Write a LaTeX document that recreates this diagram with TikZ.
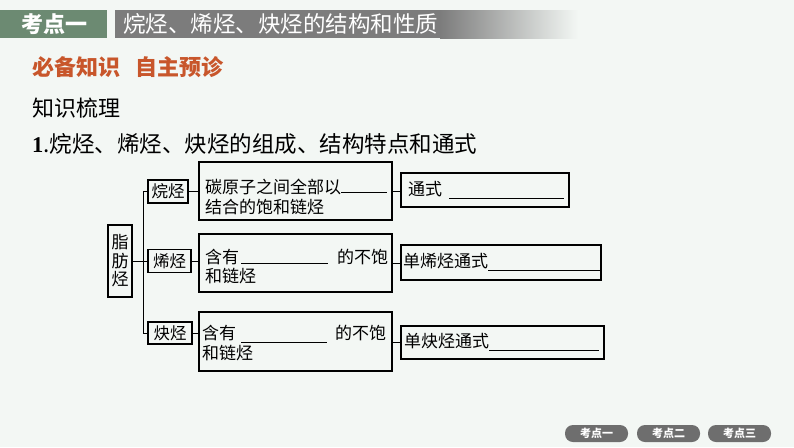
\documentclass[tikz,border=0pt]{standalone}
\usepackage{fontspec}
\setmainfont{Noto Sans CJK SC}
\newfontfamily\numfont{Liberation Serif}
\usepackage{tikz}
\usetikzlibrary{positioning, calc}
\usepackage{xcolor}

\definecolor{pagebg}{HTML}{F3F7F4}
\definecolor{headgreen}{HTML}{6C8A72}
\definecolor{headgray}{HTML}{7C7C7C}
\definecolor{secorange}{HTML}{C8562B}
\definecolor{btngray}{HTML}{6E6E6E}

\begin{document}
\begin{tikzpicture}[
    x=1pt, y=-1pt,
    kindbox/.style={draw, line width=1.6pt, inner sep=0pt, font=\fontsize{16.5}{18}\selectfont},
    descbox/.style={draw, line width=1.6pt, minimum width=193pt, inner sep=0pt},
    formbox/.style={draw, line width=1.6pt, inner sep=0pt},
    desctext/.style={anchor=west, inner sep=0pt, align=left, font=\fontsize{17}{19.5}\selectfont},
    link/.style={line width=1pt},
    button/.style={fill=btngray, rounded corners=8pt, minimum width=63pt, minimum height=17pt,
        inner sep=0pt, text=white, font=\fontsize{11}{11}\selectfont\bfseries}
]
    % Page and heading band
    \fill[pagebg] (0,0) rectangle (794,447);
    \fill[headgreen] (0,10) rectangle (107,38);
    \fill[headgray] (115,10) rectangle (440,38);
    \shade[left color=headgray, right color=pagebg] (440,10) rectangle (578,38);
    \node[text=white, inner sep=0pt, font=\fontsize{22}{22}\selectfont\bfseries] (topic) at (54,24) {考点一};
    \node[text=white, inner sep=0pt, anchor=west, font=\fontsize{22.5}{22.5}\selectfont] (title) at (123,24) {烷烃、烯烃、炔烃的结构和性质};

    % Section headings
    \node[text=secorange, inner sep=0pt, anchor=west, font=\fontsize{22}{22}\selectfont\bfseries] (section) at (32,67) {必备知识\hspace{15pt}自主预诊};
    \node[inner sep=0pt, anchor=west, font=\fontsize{22}{22}\selectfont] (combing) at (32,108) {知识梳理};
    \node[inner sep=0pt, anchor=west, font=\fontsize{22.5}{22.5}\selectfont] (point) at (32,144) {{\numfont\bfseries 1}.烷烃、烯烃、炔烃的组成、结构特点和通式};

    % Aliphatic hydrocarbons and the three kinds
    \node[kindbox, minimum width=24pt, minimum height=72pt, align=center, font=\fontsize{17}{18.5}\selectfont] (fat) at (120,261) {脂\\肪\\烃};
    \node[kindbox, minimum width=40pt, minimum height=23pt] (alkane) at (168,191.5) {烷烃};
    \node[kindbox, minimum width=43pt, minimum height=23pt] (alkene) at (169.5,261) {烯烃};
    \node[kindbox, minimum width=44pt, minimum height=22pt] (alkyne) at (170,333) {炔烃};

    % Structure boxes
    \node[descbox, minimum height=58pt] (alkdesc) at (295.5,191) {};
    \node[descbox, minimum height=58pt] (enedesc) at (295.5,263) {};
    \node[descbox, minimum height=59pt] (ynedesc) at (295.5,341.5) {};
    \node[desctext] (alktext) at (205,197) {碳原子之间全部以\rule[0.5pt]{46pt}{0.9pt}\\结合的饱和链烃};
    \node[desctext] (enetext) at (205,266.5) {含有\hspace{2pt}\rule[-0.5pt]{87pt}{0.9pt}\hspace{9pt}的不饱\\和链烃};
    \node[desctext, font=\fontsize{17}{20}\selectfont] (ynetext) at (202,343) {含有\hspace{5pt}\rule[-3.5pt]{86pt}{0.9pt}\hspace{8pt}的不饱\\和链烃};

    % General formula boxes
    \node[formbox, minimum width=168pt, minimum height=34pt] (alkform) at (485,190) {};
    \node[formbox, minimum width=200pt, minimum height=35pt] (eneform) at (501,262.5) {};
    \node[formbox, minimum width=203pt, minimum height=33pt] (yneform) at (502.5,342.5) {};
    \node[desctext] (alkformtext) at (408,190) {通式\hspace{7pt}\rule[-3.5pt]{115pt}{0.9pt}};
    \node[desctext] (eneformtext) at (403,262) {单烯烃通式\rule[-3.5pt]{112pt}{0.9pt}};
    \node[desctext] (yneformtext) at (404,342) {单炔烃通式\rule[-3.5pt]{110pt}{0.9pt}};

    % Tree lines
    \coordinate (trunktop) at (143,191.5);
    \coordinate (trunkbot) at (143,333);
    \draw[link] (alkane.west) -- (trunktop) -- (trunkbot) -- (alkyne.west);
    \draw[link] (fat.east) -- (fat.east -| trunktop);
    \draw[link] (alkene.west) -- (alkene.west -| trunktop);
    \draw[link] (alkane.east) -- (alkane.east -| alkdesc.west);
    \draw[link] (alkene.east) -- (alkene.east -| enedesc.west);
    \draw[link] (alkyne.east) -- (alkyne.east -| ynedesc.west);
    \draw[link] (alkdesc.east) -- (alkdesc.east -| alkform.west);
    \draw[link] (enedesc.east) -- (enedesc.east -| eneform.west);
    \draw[link] (yneform.west) -- (yneform.west -| ynedesc.east);

    % Navigation buttons
    \node[button] (btnone) at (596.5,433.5) {考点一};
    \node[button] (btntwo) at (668.5,433.5) {考点二};
    \node[button] (btnthree) at (739.5,433.5) {考点三};
\end{tikzpicture}
\end{document}
